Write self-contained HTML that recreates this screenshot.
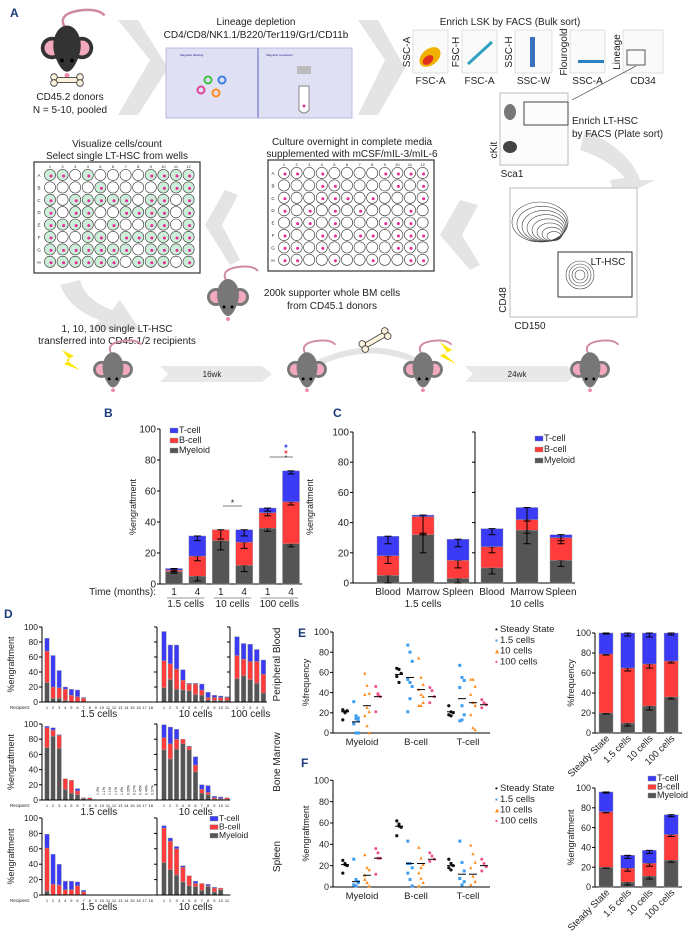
<!DOCTYPE html>
<html><head><meta charset="utf-8"><style>
html,body{margin:0;padding:0;background:#fff;}
svg{display:block;font-family:"Liberation Sans",Arial,sans-serif;}
</style></head><body>
<svg id="fig" width="699" height="942" viewBox="0 0 699 942" xmlns="http://www.w3.org/2000/svg"></svg>
<script>
// ---------- DATA ----------
// Panel B
const bCats = ["1","4","1","4","1","4"];
const bGroups = ["1.5 cells","10 cells","100 cells"];
const bMye = [8,5,28,12,36,26];
const bBcell = [1,13,7,15,10,27];
const bTcell = [1,13,0,8,3,20];
// Panel C
const cCats = ["Blood","Marrow","Spleen","Blood","Marrow","Spleen"];
const cGroups = ["1.5 cells","10 cells"];
const cMye = [5,32,3,10,35,15];
const cBcell = [13,12,12,14,7,15];
const cTcell = [13,1,14,12,8,2];
// Panel D (Myeloid, B top, T top cumulative)
const dPB15M = [26,5,5,2,0,0,0,0,0,0,0,0,0,0,0,0,0,0];
const dPB15B = [68,20,19,17,9,7,5,0,0,0,0,0,0,0,0,0,0,0];
const dPB15T = [85,62,42,20,17,16,6,0,0,0,0,0,0,0,0,0,0,0];
const dPB10M = [19,30,17,16,15,10,9,3,2,2,2];
const dPB10B = [55,51,44,29,24,24,16,6,6,6,6];
const dPB10T = [94,76,76,43,25,25,24,13,9,8,7];
const dPB100M = [31,35,30,25,12];
const dPB100B = [62,57,54,54,37];
const dPB100T = [87,78,77,70,56];
const dBM15M = [69,84,68,14,9,7,2,1,0.5,0.5,0.5,0.5,0.5,0.3,0.3,0.3,0.3,0.3];
const dBM15B = [95,92,85,28,26,12,3,3,0.5,0.5,0.5,0.5,0.5,0.3,0.3,0.3,0.3,0.3];
const dBM15T = [97,95,86,28,26,15,3,3,0.5,0.5,0.5,0.5,0.5,0.3,0.3,0.3,0.3,0.3];
const dBM10M = [66,54,67,74,66,37,9,7,1,1,1];
const dBM10B = [82,74,80,80,70,46,14,10,3,2,3];
const dBM10T = [99,96,93,80,71,57,20,19,5,4,3];
const dSP15M = [5,0,0,0,0,0,0,0,0,0,0,0,0,0,0,0,0,0];
const dSP15B = [61,14,13,7,7,12,4,0,0,0,0,0,0,0,0,0,0,0];
const dSP15T = [79,53,40,18,18,17,6,0,0,0,0,0,0,0,0,0,0,0];
const dSP10M = [42,33,26,17,12,11,6,11,4,7,0];
const dSP10B = [87,70,60,36,25,15,15,12,9,9,0];
const dSP10T = [90,74,63,38,25,18,15,14,10,9,0];
const dTicks = [0,20,40,60,80,100];
// Panel E scatter (%frequency)
const scCats = ["Myeloid","B-cell","T-cell"];
const scSeries = ["Steady State","1.5 cells","10 cells","100 cells"];
const eMyeSS=[23,21,22,13,20], eMye15=[31,17,12,9,0,0,10,14,15], eMye10=[59,47,39,38,25,21,17,7,0], eMye100=[46,39,36,21,38];
const eBSS=[64,63,59,56,50], eB15=[87,80,71,53,50,46,21,34], eB10=[74,55,48,43,38,36,27,27,30], eB100=[45,42,36,30];
const eTSS=[27,21,20,18,17], eT15=[67,55,52,45,27,18,12,13], eT10=[53,53,46,38,30,27,18,5,3], eT100=[33,30,28,25];
const eMeans=[[21,11,27,36],[58,55,43,36],[21,34,30,28]];
// Panel F scatter (%engraftment)
const fMyeSS=[25,21,20,13,22], fMye15=[26,7,5,2,1,4], fMye10=[30,18,16,11,4,1,7], fMye100=[36,32,27,12,27];
const fBSS=[62,59,56,48,57], fB15=[43,22,18,13,7,1,22], fB10=[37,27,21,13,8,4,1,18], fB100=[32,29,26,24];
const fTSS=[26,22,20,18,16], fT15=[43,23,15,8,2,5], fT10=[39,31,23,18,10,5,2], fT100=[26,22,19,15];
const fMeans=[[21,5,11,27],[57,22,22,26],[20,12,12,20]];
// Panel E/F bars
const efCats=["Steady State","1.5 cells","10 cells","100 cells"];
const eBarM=[20,10,27,36], eBarB=[59,55,42,36], eBarT=[21,35,31,28];
const fBarM=[20,5,11,27], fBarB=[56,14,13,26], fBarT=[20,13,13,20];

// ---------- HELPERS ----------
const svg=document.getElementById('fig');
const NS="http://www.w3.org/2000/svg";
const COL={T:"#3b3bf5",B:"#ff3b3b",M:"#555555"};
function mk(tag,attrs,name,parent,inter){
  const el=document.createElementNS(NS,tag);
  for(const k in attrs) el.setAttribute(k,attrs[k]);
  
  
  (parent||svg).appendChild(el);
  return el;
}
function txt(x,y,s,size,name,opt,parent){
  opt=opt||{};
  const a={x:x,y:y,'font-size':size,fill:opt.fill||'#222','text-anchor':opt.anchor||'middle'};
  if(opt.rot!==undefined) a.transform='rotate('+opt.rot+' '+x+' '+y+')';
  if(opt.weight) a['font-weight']=opt.weight;
  const t=mk('text',a,name,parent);
  t.textContent=s;
  return t;
}
function line(x1,y1,x2,y2,name,c,w,parent){return mk('line',{x1:x1,y1:y1,x2:x2,y2:y2,stroke:c||'#000','stroke-width':w||1},name,parent);}
function grp(name){return mk('g',{},name);}
function panelLabel(x,y,s){txt(x,y,s,12,'panel-label-'+s.toLowerCase(),{fill:'#1a3a7a',weight:'bold',anchor:'start'});}

// ---------- PANEL A (illustration) ----------
panelLabel(10,17,"A");
const arrowsG=grp('process-arrows');
function chevron(pts,name){mk('polygon',{points:pts,fill:'#e4e4e4'},name,arrowsG);}
chevron("118,20 150,60 118,115 138,115 168,68 138,20","arrow-donor-to-depletion");
chevron("358,20 385,60 358,115 378,115 405,68 378,20","arrow-depletion-to-facs");
chevron("460,200 440,235 470,270 480,265 462,235 478,205","arrow-facs-to-culture");
chevron("225,190 205,225 230,265 240,260 222,225 238,195","arrow-culture-to-visualize");
mk('path',{d:"M585,130 Q630,150 640,180 L655,180 L615,200 L610,180 L625,178 Q610,160 580,150 Z",fill:'#e4e4e4'},'arrow-lsk-to-lthsc',arrowsG);
mk('path',{d:"M60,285 Q70,310 100,320 L90,330 L140,330 L120,300 L112,310 Q85,300 80,280 Z",fill:'#e4e4e4'},'arrow-down-transplant',arrowsG);

function mouse(cx,cy,s,body,name,tail){
  const g=mk('g',{transform:'translate('+cx+','+cy+') scale('+s+')'},name);
  if(tail) mk('path',{d:"M0,-22 Q-10,-35 10,-38 Q25,-40 30,-34",fill:'none',stroke:'#d08aa0','stroke-width':2},'mouse-tail',g);
  mk('circle',{cx:-12,cy:-8,r:9,fill:body},'mouse-ear-left',g);
  mk('circle',{cx:12,cy:-8,r:9,fill:body},'mouse-ear-right',g);
  mk('circle',{cx:-12,cy:-8,r:6,fill:'#f3a9bd'},'mouse-inner-ear-left',g);
  mk('circle',{cx:12,cy:-8,r:6,fill:'#f3a9bd'},'mouse-inner-ear-right',g);
  mk('ellipse',{cx:0,cy:-10,rx:11,ry:16,fill:body},'mouse-body',g);
  mk('path',{d:"M-9,0 Q0,22 9,0 Z",fill:body},'mouse-snout',g);
  mk('circle',{cx:-4,cy:2,r:1.5,fill:'#000'},'mouse-eye',g);
  mk('circle',{cx:4,cy:2,r:1.5,fill:'#000'},'mouse-eye',g);
  mk('circle',{cx:0,cy:14,r:2,fill:'#f08aa8'},'mouse-nose',g);
  return g;
}
function bone(cx,cy,rot,name){
  const g=mk('g',{transform:'translate('+cx+','+cy+') rotate('+rot+')'},name);
  mk('rect',{x:-12,y:-2.5,width:24,height:5,fill:'#fbf1dc',stroke:'#333','stroke-width':0.8},'bone-shaft',g);
  [[-13,-3],[-13,3],[13,-3],[13,3]].forEach(p=>mk('circle',{cx:p[0],cy:p[1],r:3.3,fill:'#fbf1dc',stroke:'#333','stroke-width':0.8},'bone-end',g));
}
mouse(67,58,1.25,'#333','donor-mouse',true);
bone(67,80,0,'donor-bone');
txt(70,100,"CD45.2 donors",10,'donor-label');
txt(70,113,"N = 5-10, pooled",10,'donor-count');

txt(256,25,"Lineage depletion",10,'lineage-depletion-title');
txt(256,38,"CD4/CD8/NK1.1/B220/Ter119/Gr1/CD11b",10,'lineage-markers');
mk('rect',{x:166,y:48,width:186,height:70,fill:'#dfe0f3',stroke:'#b8bbe0'},'magnetic-separation-image');
line(258,48,258,118,'image-divider','#9ea2d8',2);
txt(180,56,"Magnetic labeling",3,'magnetic-labeling-caption',{anchor:'start',fill:'#2a2a90'});
txt(266,56,"Magnetic separation",3,'magnetic-separation-caption',{anchor:'start',fill:'#2a2a90'});
[[208,80,'#3fc04a'],[222,80,'#3a7fe0'],[201,90,'#e0449a'],[216,93,'#ff8c1a']].forEach(c=>mk('circle',{cx:c[0],cy:c[1],r:3.5,fill:'none',stroke:c[2],'stroke-width':2},'labeled-cell'));
mk('rect',{x:297,y:66,width:14,height:8,fill:'#bbb'},'magnet');
mk('path',{d:"M299,86 L299,110 Q304,116 309,110 L309,86 Z",fill:'#fff',stroke:'#888'},'test-tube');
mk('circle',{cx:304,cy:106,r:1.5,fill:'#e0449a'},'tube-cell');

txt(510,25,"Enrich LSK by FACS (Bulk sort)",10,'enrich-lsk-title');
const facs=[[413,448,"SSC-A","FSC-A"],[462,497,"FSC-H","FSC-A"],[515,552,"SSC-H","SSC-W"],[570,605,"Flourogold","SSC-A"],[623,663,"Lineage","CD34"]];
facs.forEach((f,i)=>{
  mk('rect',{x:f[0],y:30,width:f[1]-f[0],height:43,fill:'#fafafa',stroke:'#ccc','stroke-width':0.6},'facs-plot-'+(i+1));
  txt((f[0]+f[1])/2,84,f[3],10,'facs-x-label-'+(i+1));
  txt(f[0]-3,52,f[2],10,'facs-y-label-'+(i+1),{rot:-90});
});
mk('ellipse',{cx:430,cy:57,rx:12,ry:8,fill:'#f0b000',transform:'rotate(-40 430 57)'},'facs-density');
mk('ellipse',{cx:428,cy:60,rx:6,ry:4,fill:'#e03020',transform:'rotate(-40 428 60)'},'facs-density-core');
mk('path',{d:"M468,64 L492,42",stroke:'#30a0c0','stroke-width':3},'facs-singlets');
mk('rect',{x:530,y:37,width:5,height:30,fill:'#3a70c0'},'facs-ssc-gate');
mk('rect',{x:578,y:60,width:26,height:3,fill:'#2a80c0'},'facs-fluorogold');
mk('rect',{x:627,y:50,width:18,height:15,fill:'none',stroke:'#555'},'facs-lineage-gate');
line(636,66,572,100,'gate-arrow','#333',0.7);

mk('rect',{x:500,y:93,width:68,height:72,fill:'#fcfcfc',stroke:'#bbb'},'ckit-sca1-plot');
mk('ellipse',{cx:510,cy:112,rx:6,ry:8,fill:'#777'},'ckit-cluster');
mk('ellipse',{cx:510,cy:147,rx:7,ry:6,fill:'#444'},'ckit-cluster-low');
mk('rect',{x:524,y:102,width:44,height:23,fill:'none',stroke:'#444'},'lsk-gate');
txt(497,150,"cKit",10,'ckit-label',{rot:-90});
txt(512,177,"Sca1",10,'sca1-label');
txt(572,124,"Enrich LT-HSC",10,'enrich-lthsc-title',{anchor:'start'});
txt(572,137,"by FACS (Plate sort)",10,'enrich-lthsc-subtitle',{anchor:'start'});

mk('rect',{x:510,y:188,width:127,height:129,fill:'#fff',stroke:'#bbb'},'cd48-cd150-plot');
for(let k=0;k<8;k++) mk('ellipse',{cx:540+k*2,cy:222+k*2,rx:28-k*3,ry:20-k*2.2,fill:'none',stroke:'#444','stroke-width':0.6},'contour-ring');
for(let k=0;k<4;k++) mk('ellipse',{cx:580,cy:275,rx:14-k*3,ry:14-k*3,fill:'none',stroke:'#444','stroke-width':0.6},'contour-ring-lthsc');
mk('rect',{x:558,y:252,width:74,height:45,fill:'none',stroke:'#333'},'lthsc-gate');
txt(608,265,"LT-HSC",10,'lthsc-gate-label');
txt(506,300,"CD48",10,'cd48-label',{rot:-90});
txt(530,329,"CD150",10,'cd150-label');

function plate(x0,y0,name,pattern){
  const g=mk('g',{},name);
  mk('rect',{x:x0,y:y0,width:166,height:111,fill:'#fff',stroke:'#333','stroke-width':1.2},'plate-frame',g);
  const rows="ABCDEFGH";
  for(let c=0;c<12;c++) txt(x0+16+c*12.6,y0+6,String(c+1),4,'plate-col-label',{},g);
  for(let r=0;r<8;r++){
    txt(x0+5,y0+15+r*12.4,rows[r],4.5,'plate-row-label',{},g);
    for(let c=0;c<12;c++){
      const ch=pattern[r][c];
      mk('circle',{cx:x0+16+c*12.6,cy:y0+13+r*12.4,r:5.6,fill:ch==='g'?'#cdeed9':'#fff',stroke:'#333','stroke-width':0.6},'plate-well',g);
      if(ch!=='.') mk('circle',{cx:x0+17+c*12.6,cy:y0+14+r*12.4,r:1.5,fill:'#e8299a'},'cell-dot',g);
    }
  }
}
const plateA=["gg.g....gggg","....g....ggg","g.ggggg.gg.g","g.gg..gggg.g","gggg.g..gg.g","g..gg.gggggg","ggggggg.gggg","gggggg.ggg.g"];
const plateB=["cc.c....cccc","...cc....c.c","c..ccc.c...c","c.c.c.c...c.",".cc.c...ccc.","c..cc.cc.ccc","cc.c.....cc.","cc..c..c..cc"];
txt(117,147,"Visualize cells/count",10,'visualize-title');
txt(117,159,"Select single LT-HSC from wells",10,'visualize-subtitle');
plate(34,162,'selection-plate',plateA);
txt(352,145,"Culture overnight in complete media",10,'culture-title');
txt(352,157,"supplemented with mCSF/mIL-3/mIL-6",10,'culture-subtitle');
plate(268,160,'culture-plate',plateB);
mouse(228,305,1.0,'#777','supporter-mouse',true);
txt(332,296,"200k supporter whole BM cells",10,'supporter-title');
txt(332,309,"from CD45.1 donors",10,'supporter-subtitle');
txt(117,332,"1, 10, 100 single LT-HSC",10,'transplant-title');
txt(117,344,"transferred into CD45.1/2 recipients",10,'transplant-subtitle');
// timeline
mk('polygon',{points:"160,366 262,366 272,374 262,382 160,382 168,374",fill:'#e8e8e8'},'timeline-arrow-16wk');
txt(212,377,"16wk",8,'timeline-16wk');
mk('polygon',{points:"465,366 567,366 577,374 567,382 465,382 473,374",fill:'#e8e8e8'},'timeline-arrow-24wk');
txt(517,377,"24wk",8,'timeline-24wk');
mk('path',{d:"M320,362 Q370,340 415,360",fill:'none',stroke:'#e4e4e4','stroke-width':6},'transfer-arc');
bone(375,340,-30,'transfer-bone');
mk('polygon',{points:"62,350 74,356 66,360 80,370 64,364 70,360",fill:'#ffe600'},'irradiation-bolt-1');
mk('polygon',{points:"440,342 452,350 444,354 456,364 440,356 447,352",fill:'#ffe600'},'irradiation-bolt-2');
[[113,'recipient-mouse'],[307,'engrafted-mouse'],[423,'secondary-recipient-mouse'],[590,'secondary-engrafted-mouse']].forEach(m=>mouse(m[0],377,0.95,'#777',m[1],true));

// ---------- generic stacked bar ----------
function stackBar(parent,x,w,ys,vals,name,err){
  // vals: [M,B,T] segment sizes ; ys: scale function
  let base=0;
  const keys=['M','B','T'];
  const lbl=['myeloid','b-cell','t-cell'];
  vals.forEach((v,i)=>{
    if(v<=0) return;
    const y1=ys(base+v), y0=ys(base);
    mk('rect',{x:x-w/2,y:y1,width:w,height:Math.max(0.3,y0-y1),fill:COL[keys[i]],stroke:'#999','stroke-width':0.4},name+'-'+lbl[i],parent);
    if(err){
      const top=base+v, e=err;
      line(x,ys(top),x,ys(Math.max(0,top-e)),name+'-error-'+lbl[i],'#000',1,parent);
      line(x-3.5,ys(Math.max(0,top-e)),x+3.5,ys(Math.max(0,top-e)),name+'-error-cap',"#000",1,parent);
      line(x-3.5,ys(top),x+3.5,ys(top),name+'-error-cap',"#000",1,parent);
    }
    base+=v;
  });
}
function yAxis(parent,x,ys,ticks,name,size,labels){
  line(x,ys(ticks[0]),x,ys(ticks[ticks.length-1]),name,'#000',1,parent);
  ticks.forEach(t=>{
    line(x-3,ys(t),x,ys(t),name+'-tick','#000',1,parent);
    if(labels!==false) txt(x-4,ys(t)+size*0.35,String(t),size,name+'-tick-label',{anchor:'end'},parent);
  });
}
function legend(parent,x,y,dy,size,name){
  [['T','T-cell'],['B','B-cell'],['M','Myeloid']].forEach((l,i)=>{
    mk('rect',{x:x,y:y+i*dy-size*0.55,width:8,height:size*0.55,fill:COL[l[0]],stroke:'#888','stroke-width':0.4},name+'-swatch',parent);
    txt(x+9,y+i*dy,l[1],size,name+'-entry',{anchor:'start'},parent);
  });
}

// ---------- PANEL B ----------
panelLabel(104,417,"B");
const gB=grp('chart-b');
const yB=v=>584-v*1.55;
const xB=i=>174+i*23.4;
yAxis(gB,160,yB,[0,20,40,60,80,100],'b-y-axis',10);
line(160,584,302,584,'b-x-axis','#000',1,gB);
txt(136,507,"%engraftment",9,'b-y-axis-title',{rot:-90},gB);
const bErr=[1,3,6,4,2,2];
bCats.forEach((c,i)=>{
  stackBar(gB,xB(i),17,yB,[bMye[i],bBcell[i],bTcell[i]],'b-bar-'+(i+1),bErr[i]);
  txt(xB(i),595,c,10,'b-x-tick-label',{},gB);
});
txt(156,595,"Time (months):",10,'b-time-label',{anchor:'end'},gB);
bGroups.forEach((g,k)=>{
  line(xB(2*k)-7,598,xB(2*k+1)+7,598,'b-group-line','#999',1,gB);
  txt((xB(2*k)+xB(2*k+1))/2,607,g,10,'b-group-label-'+(k+1),{},gB);
});
line(xB(2)+2,506,xB(3)-2,506,'b-sig-line','#555',0.8,gB);
txt((xB(2)+xB(3))/2,506,"*",9,'b-sig-star',{},gB);
line(xB(4)+2,457,xB(5)+2,457,'b-sig-line-100','#555',0.8,gB);
txt(xB(5)-5,448,"★",6,'b-sig-star-t',{fill:'#3b3bf5'},gB);
txt(xB(5)-5,454,"★",6,'b-sig-star-b',{fill:'#ff3b3b'},gB);
txt(xB(5)-5,460,"*",7,'b-sig-star-m',{},gB);
legend(gB,170,433,10,9,'b-legend');

// ---------- PANEL C ----------
panelLabel(333,417,"C");
const gC=grp('chart-c');
const yC=v=>583-v*1.51;
const xC=i=>[388,423,458,492,527,561][i];
yAxis(gC,353,yC,[0,20,40,60,80,100],'c-y-axis',10);
yAxis(gC,475,yC,[0,20,40,60,80,100],'c-y-axis-2',10,false);
line(353,583,575,583,'c-x-axis','#000',1,gC);
txt(313,507,"%engraftment",9,'c-y-axis-title',{rot:-90},gC);
const cErr=[5,12,5,4,9,4];
cCats.forEach((c,i)=>{
  stackBar(gC,xC(i),22,yC,[cMye[i],cBcell[i],cTcell[i]],'c-bar-'+(i+1),cErr[i]);
  txt(xC(i),595,c,10,'c-x-tick-label',{},gC);
});
cGroups.forEach((g,k)=>txt(xC(3*k+1),607,g,10,'c-group-label-'+(k+1),{},gC));
legend(gC,535,441,11,9,'c-legend');

// ---------- PANEL D ----------
panelLabel(4,618,"D");
function dPanel(top,zero,groups,title,name,showPct){
  const g=grp(name);
  const ys=v=>zero-v*(zero-top)/100;
  yAxis(g,42,ys,dTicks,name+'-y-axis',8.5);
  txt(14,(top+zero)/2,"%engraftment",9,name+'-y-title',{rot:-90},g);
  txt(10,zero+7,"Recipient:",4.5,name+'-recipient-label',{anchor:'start'},g);
  groups.forEach((gr,k)=>{
    if(k>0) yAxis(g,gr.x0-4,ys,dTicks,name+'-y-axis-'+(k+1),8,false);
    const n=gr.M.length;
    for(let i=0;i<n;i++){
      const x=gr.x0+3+i*gr.sp;
      const m=gr.M[i], b=gr.B[i]-gr.M[i], t=gr.T[i]-gr.B[i];
      stackBar(g,x,gr.sp*0.72,ys,[m,b,t],name+'-bar-'+gr.label.replace(/[ .]/g,'')+'-'+(i+1));
      txt(x,zero+7,String(i+1),4,name+'-recipient-tick',{},g);
    }
    line(gr.x0-4,zero,gr.x0+n*gr.sp,zero,name+'-x-axis','#000',1,g);
    txt(gr.x0+n*gr.sp/2,zero+15,gr.label,10,name+'-group-label',{},g);
  });
  txt(280,(top+zero)/2,title,10,name+'-tissue-label',{rot:-90},g);
  return g;
}
dPanel(627,702,[{x0:44,sp:6.1,M:dPB15M,B:dPB15B,T:dPB15T,label:"1.5 cells"},{x0:161,sp:6.3,M:dPB10M,B:dPB10B,T:dPB10T,label:"10 cells"},{x0:234,sp:6.6,M:dPB100M,B:dPB100B,T:dPB100T,label:"100 cells"}],"Peripheral Blood",'d-peripheral-blood');
const gBM=dPanel(724,800,[{x0:44,sp:6.1,M:dBM15M,B:dBM15B,T:dBM15T,label:"1.5 cells"},{x0:161,sp:6.3,M:dBM10M,B:dBM10B,T:dBM10T,label:"10 cells"}],"Bone Marrow",'d-bone-marrow');
const bmPct=["1.3%","1.1%","1.1%","1.1%","1.0%","0.36%","0.27%","0.45%","0.46%","0.37%"];
bmPct.forEach((p,i)=>txt(47+3+(8+i)*6.1,795,p,3.5,'d-bm-percent-label',{rot:-90,anchor:'start'},gBM));
const gSP=dPanel(818,895,[{x0:44,sp:6.1,M:dSP15M,B:dSP15B,T:dSP15T,label:"1.5 cells"},{x0:161,sp:6.3,M:dSP10M,B:dSP10B,T:dSP10T,label:"10 cells"}],"Spleen",'d-spleen');
legend(gSP,210,821,8.5,8.5,'d-legend');

// ---------- Scatter E/F ----------
function scatterPanel(name,zero,scale,sets,means,yTitle,legY){
  const g=grp(name);
  const ys=v=>zero-v*scale;
  yAxis(g,333,ys,[0,20,40,60,80,100],name+'-y-axis',9);
  line(333,zero,490,zero,name+'-x-axis','#000',1,g);
  txt(309,ys(50),yTitle,9,name+'-y-title',{rot:-90},g);
  const gx=[362,416,468], off=[-17,-6,5,16];
  const cols=['#111','#3b9cf0','#ff8c1a','#f0508c'];
  scCats.forEach((c,ci)=>{
    txt(gx[ci],zero+12,c,9.5,name+'-x-tick-label',{},g);
    scSeries.forEach((s,si)=>{
      const vals=sets[ci][si];
      vals.forEach((v,j)=>{
        const x=gx[ci]+off[si]+((j%3)-1)*2.2;
        const y=ys(v);
        if(si===0) mk('circle',{cx:x,cy:y,r:1.6,fill:cols[0]},name+'-point-steady',g);
        else if(si===1) mk('rect',{x:x-1.5,y:y-1.5,width:3,height:3,fill:cols[1]},name+'-point-1-5',g);
        else if(si===2) mk('polygon',{points:(x)+','+(y-1.8)+' '+(x-1.7)+','+(y+1.3)+' '+(x+1.7)+','+(y+1.3),fill:cols[2]},name+'-point-10',g);
        else mk('circle',{cx:x,cy:y,r:1.5,fill:cols[3]},name+'-point-100',g);
      });
      const m=means[ci][si];
      line(gx[ci]+off[si]-4,ys(m),gx[ci]+off[si]+4,ys(m),name+'-mean-line','#000',1,g);
    });
  });
  const marks=['•','▪','▴','•'];
  scSeries.forEach((s,i)=>{
    txt(495,legY+i*10.8,marks[i],8,name+'-legend-marker',{fill:cols[i],anchor:'start'},g);
    txt(500,legY+i*10.8,s,9.5,name+'-legend-entry',{anchor:'start'},g);
  });
}
panelLabel(298,637,"E");
scatterPanel('e-scatter',733,1.01,[[eMyeSS,eMye15,eMye10,eMye100],[eBSS,eB15,eB10,eB100],[eTSS,eT15,eT10,eT100]],eMeans,"%frequency",632);
panelLabel(301,767,"F");
scatterPanel('f-scatter',887,1.067,[[fMyeSS,fMye15,fMye10,fMye100],[fBSS,fB15,fB10,fB100],[fTSS,fT15,fT10,fT100]],fMeans,"%engraftment",791);

// ---------- E/F stacked bars ----------
function efBars(name,zero,scale,M,B,T,yTitle,errs){
  const g=grp(name);
  const ys=v=>zero-v*scale;
  yAxis(g,595,ys,[0,20,40,60,80,100],name+'-y-axis',9);
  line(595,zero,682,zero,name+'-x-axis','#000',1,g);
  txt(574,ys(50),yTitle,9,name+'-y-title',{rot:-90},g);
  const xs=i=>606+i*21.7;
  efCats.forEach((c,i)=>{
    stackBar(g,xs(i),14,ys,[M[i],B[i],T[i]],name+'-bar-'+(i+1),errs[i]);
    txt(xs(i)+4,zero+6,c,9.5,name+'-x-tick-label',{rot:-45,anchor:'end'},g);
  });
  return g;
}
efBars('e-bars',733,1.0,eBarM,eBarB,eBarT,"%frequency",[1,3,4,2]);
const gFB=efBars('f-bars',887,0.99,fBarM,fBarB,fBarT,"%engraftment",[1,3,3,2]);
legend(gFB,648,781,8.5,9,'f-legend');
</script>
</body></html>
